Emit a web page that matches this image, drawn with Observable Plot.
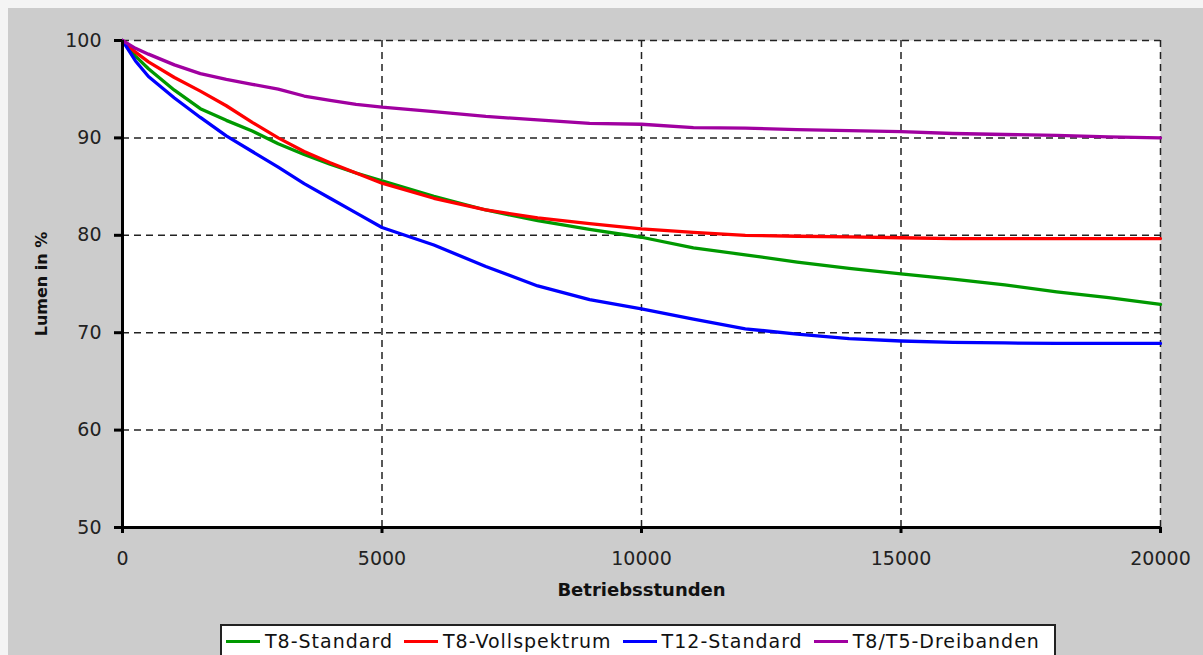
<!DOCTYPE html>
<html>
<head>
<meta charset="utf-8">
<script src="https://cdn.jsdelivr.net/npm/d3@7"></script>
<script src="https://cdn.jsdelivr.net/npm/@observablehq/plot@0.6"></script>
<style>
  html, body { margin: 0; padding: 0; background: #f4f4f4; }
  #panel { position: absolute; left: 8px; top: 8px; width: 1195px; height: 647px; background: #cccccc; overflow: hidden; }
  #chart { position: absolute; left: 0; top: 0; }
  #legend { position: absolute; left: 212px; top: 616px; width: 836px; height: 44px; background: #fff;
            border: 2px solid #222; box-sizing: border-box; display: flex; align-items: flex-start;
            padding: 5px 0 0 4px; font-family: "DejaVu Sans", sans-serif; font-size: 19px; color: #111; }
  .item { display: flex; align-items: center; margin-right: 11px; letter-spacing: 1px; white-space: nowrap; line-height: 21px; }
  .sw { display: inline-block; width: 34px; height: 3px; margin-right: 5px; }
</style>
</head>
<body>
<div id="panel"><div id="chart"></div><div id="legend"></div></div>
<script>
const hours = [0, 250, 500, 1000, 1500, 2000, 2500, 3000, 3500, 4000, 4500, 5000, 6000, 7000, 8000, 9000, 10000, 11000, 12000, 13000, 14000, 15000, 16000, 17000, 18000, 19000, 20000];
const t8Standard    = [100, 98.4, 97.1, 94.9, 93.0, 91.8, 90.7, 89.4, 88.3, 87.3, 86.4, 85.6, 84.0, 82.6, 81.5, 80.6, 79.8, 78.7, 78.0, 77.25, 76.6, 76.05, 75.5, 74.9, 74.2, 73.6, 72.9];
const t8Voll        = [100, 98.8, 97.8, 96.2, 94.8, 93.3, 91.6, 90.0, 88.6, 87.45, 86.4, 85.35, 83.8, 82.6, 81.8, 81.2, 80.66, 80.3, 80.0, 79.9, 79.83, 79.75, 79.66, 79.66, 79.66, 79.66, 79.66];
const t12Standard   = [100, 97.9, 96.3, 94.1, 92.1, 90.2, 88.6, 87.0, 85.3, 83.8, 82.3, 80.8, 79.0, 76.8, 74.8, 73.4, 72.45, 71.4, 70.4, 69.85, 69.4, 69.15, 69.0, 68.95, 68.9, 68.9, 68.9];
const t8t5Dreiband  = [100, 99.2, 98.6, 97.5, 96.6, 96.0, 95.5, 95.0, 94.3, 93.85, 93.45, 93.15, 92.7, 92.2, 91.85, 91.5, 91.4, 91.05, 91.0, 90.85, 90.75, 90.65, 90.45, 90.35, 90.25, 90.1, 90.0];
const seriesNames  = ["T8-Standard", "T8-Vollspektrum", "T12-Standard", "T8/T5-Dreibanden"];
const seriesValues = [t8Standard, t8Voll, t12Standard, t8t5Dreiband];
const seriesColors = ["#009900", "#ff0000", "#0000ff", "#a000a0"];
const xTicks = [0, 5000, 10000, 15000, 20000];
const yTicks = [50, 60, 70, 80, 90, 100];
const xLabel = "Betriebsstunden";
const yLabel = "Lumen in %";

const rows = [];
seriesNames.forEach((name, i) => {
  hours.forEach((h, j) => rows.push({series: name, h, v: seriesValues[i][j]}));
});

const grid = {stroke: "#222", strokeOpacity: 1, strokeDasharray: "7,5", strokeWidth: 1.5};

const chart = Plot.plot({
  width: 1195,
  height: 610,
  marginLeft: 114,
  marginRight: 43,
  marginTop: 32,
  marginBottom: 91,
  style: {background: "transparent", fontFamily: "DejaVu Sans, sans-serif", fontSize: "19px", color: "#222", overflow: "visible"},
  x: {domain: [0, 20000]},
  y: {domain: [50, 100]},
  color: {domain: seriesNames, range: seriesColors},
  marks: [
    Plot.frame({fill: "white", stroke: null}),
    Plot.gridY(yTicks.filter(v => v > 50), grid),
    Plot.gridX(xTicks.filter(v => v > 0), grid),
    Plot.line(rows, {x: "h", y: "v", z: "series", stroke: "series", strokeWidth: 3.3, curve: "linear"}),
    Plot.ruleX([0], {stroke: "black", strokeWidth: 3}),
    Plot.ruleY([50], {stroke: "black", strokeWidth: 3}),
    Plot.axisY(yTicks, {tickSize: 8, tickPadding: 13, stroke: "black", strokeWidth: 3, fill: "#222", label: null}),
    Plot.axisX(xTicks, {tickSize: 6, tickPadding: 18, stroke: "black", strokeWidth: 3, fill: "#222", tickFormat: d => String(d), label: null}),
    Plot.text([yLabel], {frameAnchor: "left", dx: -81, rotate: -90, textAnchor: "middle", lineAnchor: "middle", fontWeight: "bold", fontSize: 16, fill: "#111"}),
    Plot.text([xLabel], {frameAnchor: "bottom", dy: 63, textAnchor: "middle", lineAnchor: "middle", fontWeight: "bold", fontSize: 18, fill: "#111"})
  ]
});
document.getElementById("chart").appendChild(chart);

const legend = document.getElementById("legend");
seriesNames.forEach((name, i) => {
  const it = document.createElement("div");
  it.className = "item";
  const sw = document.createElement("span");
  sw.className = "sw";
  sw.style.background = seriesColors[i];
  const tx = document.createElement("span");
  tx.textContent = name;
  it.appendChild(sw);
  it.appendChild(tx);
  legend.appendChild(it);
});
</script>
</body>
</html>
